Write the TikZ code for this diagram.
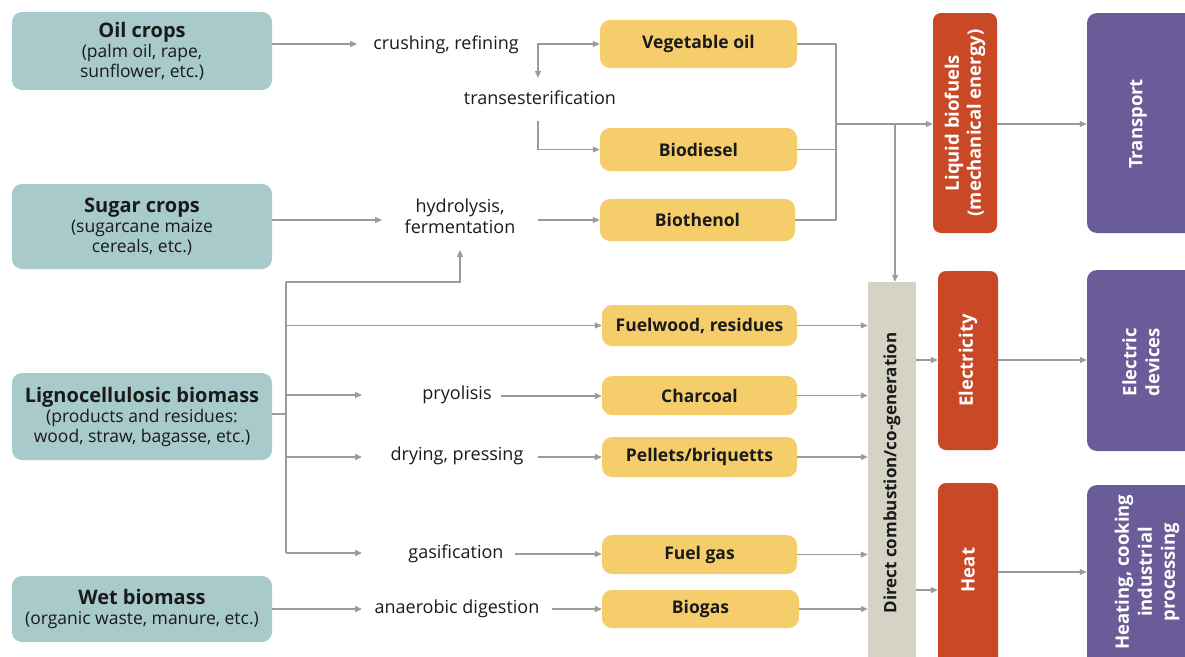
\documentclass[tikz,border=0pt]{standalone}
\usepackage{fontspec}
\setmainfont{Open Sans}
\usetikzlibrary{arrows.meta}
\definecolor{srcC}{HTML}{A9CACA}
\definecolor{prodC}{HTML}{F5CD6B}
\definecolor{redC}{HTML}{C94826}
\definecolor{purC}{HTML}{6A5B99}
\definecolor{colC}{HTML}{D4D3C5}
\definecolor{lineC}{HTML}{9B9B9B}
\definecolor{txtC}{HTML}{1A1A1A}
\tikzset{
  src/.style={fill=srcC, rounded corners=10pt, align=center, inner sep=0pt, minimum width=260pt, text=txtC, font=\fontsize{17.5}{20}\selectfont},
  prod/.style={fill=prodC, rounded corners=10pt, inner sep=0pt, text=txtC, font=\bfseries\fontsize{17.5}{19}\selectfont},
  proc/.style={align=center, inner sep=0pt, text=txtC, font=\fontsize{18}{21}\selectfont},
  outr/.style={fill=redC, rounded corners=8pt, inner sep=0pt, text=white, align=center, font=\bfseries\fontsize{18.5}{22}\selectfont},
  use/.style={fill=purC, rounded corners=10pt, inner sep=0pt, text=white, align=center, font=\bfseries\fontsize{18.5}{23}\selectfont},
  colbox/.style={fill=colC, inner sep=0pt, text=txtC, font=\bfseries\fontsize{17}{19}\selectfont},
  line/.style={draw=lineC, line width=1.2pt},
  conn/.style={line, -{Triangle[length=7pt,width=6pt]}},
  both/.style={line, {Triangle[length=7pt,width=6pt]}-{Triangle[length=7pt,width=6pt]}}
}
\newcommand{\ttlfont}{\bfseries\fontsize{20}{22}\selectfont}
\begin{document}
\begin{tikzpicture}[x=1pt,y=-1pt]
\useasboundingbox (0,0) rectangle (1185,656);

% sources
\node[src, minimum height=78pt] (oil) at (142,51) {{\ttlfont Oil crops}\\(palm oil, rape,\\sunflower, etc.)};
\node[src, minimum height=85pt] (sugar) at (142,226.5) {{\ttlfont Sugar crops}\\(sugarcane maize\\cereals, etc.)};
\node[src, minimum height=87pt] (ligno) at (142,416.5) {{\ttlfont Lignocellulosic biomass}\\(products and residues:\\wood, straw, bagasse, etc.)};
\node[src, minimum height=66pt] (wet) at (142,609) {{\ttlfont Wet biomass}\\(organic waste, manure, etc.)};

% processes
\node[proc] (crush) at (446,45) {crushing, refining};
\node[proc] (trans) at (540,98) {transesterification};
\node[proc] (hydro) at (460,216) {hydrolysis,\\fermentation};
\node[proc] (pyro) at (457,395) {pryolisis};
\node[proc] (dry) at (457,456) {drying, pressing};
\node[proc] (gas) at (456,554) {gasification};
\node[proc] (anae) at (457,609) {anaerobic digestion};

% products
\node[prod, minimum width=197pt, minimum height=48pt] (veg) at (698.5,44) {Vegetable oil};
\node[prod, minimum width=197pt, minimum height=43pt] (biod) at (698.5,149.5) {Biodiesel};
\node[prod, minimum width=195pt, minimum height=42pt] (bioe) at (697.5,220) {Biothenol};
\node[prod, minimum width=195pt, minimum height=41pt] (fuelw) at (699.5,325.5) {Fuelwood, residues};
\node[prod, minimum width=195pt, minimum height=39pt] (charc) at (699.5,395.5) {Charcoal};
\node[prod, minimum width=195pt, minimum height=40pt] (pell) at (699.5,457) {Pellets/briquetts};
\node[prod, minimum width=195pt, minimum height=39pt] (fgas) at (699.5,554.5) {Fuel gas};
\node[prod, minimum width=197pt, minimum height=38pt] (biog) at (700.5,609) {Biogas};

% combustion column
\node[colbox, minimum width=48pt, minimum height=376pt] (col) at (892,470) {};
\node[colbox, fill=none, rotate=90] (coltxt) at (892,473) {Direct combustion/co-generation};

% energy carriers
\node[outr, minimum width=64pt, minimum height=220pt] (liq) at (965,123) {};
\node[outr, rotate=90] at (liq.center) {Liquid biofuels\\(mechanical energy)};
\node[outr, minimum width=60pt, minimum height=179pt] (elec) at (968,360.5) {};
\node[outr, rotate=90] at (elec.center) {Electricity};
\node[outr, minimum width=60pt, minimum height=190pt] (heat) at (968,578) {};
\node[outr, rotate=90] at (968,570) {Heat};

% uses
\node[use, minimum width=115pt, minimum height=220pt] (trans2) at (1144.5,123) {};
\node[use, rotate=90] at (1138,124) {Transport};
\node[use, minimum width=115pt, minimum height=181pt] (edev) at (1144.5,360.5) {};
\node[use, rotate=90] at (1141,362) {Electric\\devices};
\node[use, minimum width=115pt, minimum height=190pt] (hcook) at (1144.5,580) {};
\node[use, rotate=90] at (1147,572) {Heating, cooking\\industrial\\processing};

% coordinates
\coordinate (c1) at (357,44);
\coordinate (k1) at (538,78);
\coordinate (k2) at (538,121);
\coordinate (s1) at (382,220);
\coordinate (h1) at (538,220);
\coordinate (j) at (286,414);
\coordinate (jt) at (286,282);
\coordinate (jb) at (286,553);
\coordinate (up) at (460,250);
\coordinate (t2) at (362,395);
\coordinate (t3) at (362,457);
\coordinate (t4) at (362,553);
\coordinate (w1) at (362,609);
\coordinate (p1) at (501,396);
\coordinate (p2) at (538,457);
\coordinate (p3) at (515,554);
\coordinate (p4) at (552,609);
\coordinate (m1) at (836,124);
\coordinate (m2) at (895,124);
\coordinate (e1) at (916,360);
\coordinate (e2) at (916,590);
\coordinate (e3) at (998,572);

% connectors
\draw[conn] (oil.east |- c1) -- (c1);
\draw[both] (k1) |- (veg.west);
\draw[conn] (k2) |- (biod.west);
\draw[conn] (sugar.east |- s1) -- (s1);
\draw[conn] (h1) -- (bioe.west);

\draw[line] (ligno.east |- j) -- (j);
\draw[line] (jt) -- (jb);
\draw[conn] (jt) -| (up);
\draw[conn] (jt |- fuelw.west) -- (fuelw.west);
\draw[conn] (jt |- t2) -- (t2);
\draw[conn] (jt |- t3) -- (t3);
\draw[conn] (jb) -- (t4);
\draw[conn] (wet.east |- w1) -- (w1);

\draw[conn] (p1) -- (charc.west |- p1);
\draw[conn] (p2) -- (pell.west |- p2);
\draw[conn] (p3) -- (fgas.west |- p3);
\draw[conn] (p4) -- (biog.west |- p4);

\draw[conn] (fuelw.east) -- (fuelw.east -| col.west);
\draw[conn] (charc.east) -- (charc.east -| col.west);
\draw[conn] (pell.east) -- (pell.east -| col.west);
\draw[conn] (fgas.east) -- (fgas.east -| col.west);
\draw[conn] (biog.east) -- (biog.east -| col.west);

\draw[line] (veg.east) -| (m1);
\draw[line] (biod.east) -| (m1);
\draw[line] (bioe.east) -| (m1);
\draw[conn] (m1) -- (liq.west |- m1);
\draw[conn] (m2) -- (m2 |- col.north);
\draw[conn] (liq.east |- m1) -- (trans2.west |- m1);

\draw[conn] (e1) -- (elec.west |- e1);
\draw[conn] (e2) -- (heat.west |- e2);
\draw[conn] (elec.east |- e1) -- (edev.west |- e1);
\draw[conn] (e3) -- (hcook.west |- e3);
\end{tikzpicture}
\end{document}
